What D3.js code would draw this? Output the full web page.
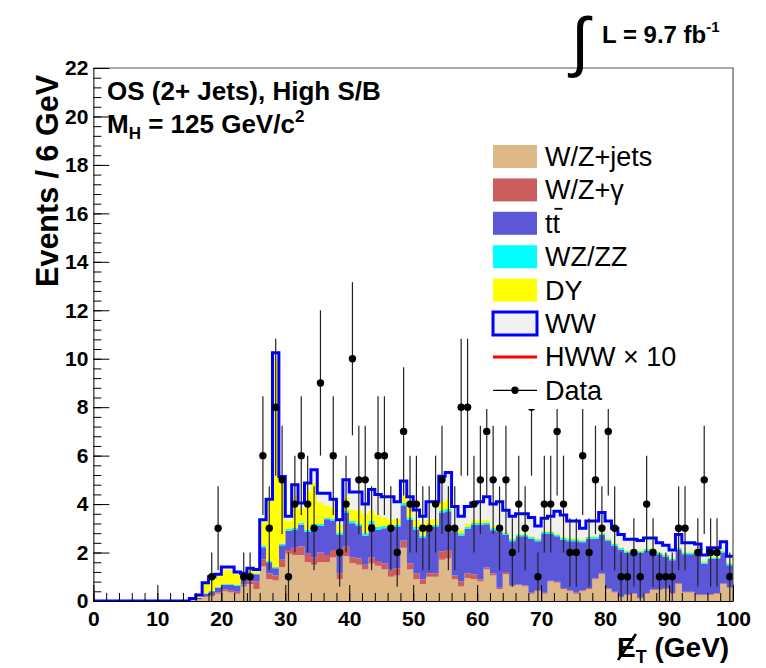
<!DOCTYPE html>
<html>
<head>
<meta charset="utf-8">
<script src="https://cdn.jsdelivr.net/npm/d3@7"></script>
<style>
body { margin: 0; background: #fff; }
text { font-family: "Liberation Sans", Arial, Helvetica, sans-serif; }
</style>
</head>
<body>
<svg id="chart" width="766" height="668"></svg>
<script>
// histogram: 100 bins of 1 GeV from 0 to 100
var xRange = [0, 100];
var yRange = [0, 22];
var xTicks = [0, 10, 20, 30, 40, 50, 60, 70, 80, 90, 100];
var yTicks = [0, 2, 4, 6, 8, 10, 12, 14, 16, 18, 20, 22];

var wzJets = [0,0,0,0,0,0,0,0,0,0, 0,0,0,0,0,0.03,0.06,0.15,0.20,0.30,
  0.40,0.35,0.30,0.60,0.70,0.50,1.42,0.90,0.85,1.40, 1.95,1.90,1.90,1.60,1.50,1.60,1.60,1.80,0.90,1.85,
  1.56,1.50,1.30,1.55,1.45,1.30,1.00,1.05,2.20,1.30, 0.90,0.70,1.00,1.00,1.70,1.75,0.90,0.60,0.95,0.90,
  0.80,1.30,1.05,0.50,1.10,0.60,0.65,0.60,0.30,0.40, 0.30,0.80,0.75,0.50,0.40,0.30,0.40,0.50,0.90,1.10,
  0.50,0.35,0.15,0.25,0.30,0.10,0.30,0.45,0.45,0.50, 0.30,0.70,0.35,0.35,0.25,0.25,0.25,0.30,0.70,0.55];
var wzGamma = [0,0,0,0,0,0,0,0,0,0, 0,0,0,0,0,0.01,0.02,0.05,0.05,0.06,
  0.07,0.07,0.08,0.08,0.10,0.30,0.30,0.25,0.20,0.30, 0.15,0.30,0.35,0.35,0.30,0.40,0.30,0.30,0.25,0.40,
  0.25,0.25,0.20,0.25,0.20,0.25,0.30,0.30,0.30,0.25, 0.25,0.20,0.15,0.15,0.35,0.35,0.15,0.20,0.20,0.20,
  0.10,0.08,0.08,0.05,0.10,0.04,0.04,0.04,0.04,0.04, 0.04,0.04,0.04,0.04,0.04,0.04,0.04,0.04,0.04,0.04,
  0.03,0.03,0.03,0.03,0.03,0.03,0.03,0.03,0.03,0.03, 0.03,0.03,0.03,0.03,0.03,0.03,0.03,0.03,0.03,0.03];
var ttbar = [0,0,0,0,0,0,0,0,0,0, 0,0,0,0,0,0.02,0.05,0.10,0.15,0.20,
  0.20,0.25,0.25,0.25,0.30,0.30,0.50,0.45,0.30,0.60, 0.80,0.75,0.90,0.90,1.30,1.10,1.47,1.22,1.60,1.38,
  1.40,1.35,1.20,1.40,1.30,1.45,1.60,1.70,1.45,1.80, 1.80,1.70,1.80,1.90,1.60,1.60,1.80,1.90,1.82,2.05,
  2.25,1.79,1.79,2.31,1.52,1.83,1.98,2.03,2.23,2.03, 2.45,1.93,1.88,1.98,2.03,2.13,1.98,2.03,1.63,1.58,
  1.95,1.90,1.95,1.70,1.70,1.85,1.75,1.60,1.45,1.30, 1.35,1.40,1.55,1.55,1.65,1.25,1.45,1.40,1.25,0.90];
var wzzz = [0,0,0,0,0,0,0,0,0,0, 0,0,0,0,0,0.01,0.01,0.02,0.02,0.03,
  0.03,0.03,0.03,0.03,0.03,0.03,0.07,0.05,0.05,0.07, 0.07,0.08,0.08,0.08,0.08,0.08,0.08,0.08,0.08,0.10,
  0.10,0.10,0.10,0.10,0.10,0.10,0.10,0.10,0.10,0.10, 0.10,0.10,0.10,0.10,0.10,0.10,0.10,0.10,0.08,0.08,
  0.08,0.08,0.08,0.08,0.08,0.08,0.08,0.08,0.08,0.08, 0.08,0.08,0.08,0.08,0.08,0.08,0.08,0.08,0.08,0.08,
  0.07,0.07,0.07,0.07,0.07,0.07,0.07,0.07,0.07,0.07, 0.07,0.07,0.07,0.07,0.07,0.07,0.07,0.07,0.07,0.07];
var drellYan = [0,0,0,0,0,0,0,0,0,0, 0,0,0,0,0,0.03,0.10,0.40,0.50,0.45,
  0.60,0.60,0.45,0.15,0.15,0.12,1.00,2.50,8.60,2.60, 0.35,1.30,0.60,1.60,1.70,0.90,0.50,0.45,0.35,0.55,
  0.45,0.55,0.80,0.45,0.50,0.35,0.35,0.25,0.35,0.40, 0.30,0.50,0.30,0.25,0.35,0.40,0.20,0.15,0.15,0.12,
  0.12,0.10,0.10,0.06,0.05,0.05,0.05,0.05,0.05,0.05, 0.05,0.05,0.05,0.05,0.05,0.05,0.05,0.05,0.05,0.05,
  0.05,0.05,0.05,0.05,0.05,0.05,0.05,0.05,0.05,0.05, 0.05,0.05,0.05,0.05,0.05,0.05,0.05,0.05,0.05,0.05];
var ww = [0,0,0,0,0,0,0,0,0,0, 0,0,0,0,0,0,0.01,0.03,0.08,0.06,
  0.10,0.10,0.09,0.04,0.07,0.05,0.06,0.05,0.25,0.17, 0.18,0.47,0.22,0.34,0.54,0.37,0.50,0.35,0.17,0.72,
  0.74,0.75,0.40,0.85,0.85,0.85,0.95,0.70,0.55,0.45, 0.41,0.30,0.75,0.70,1.05,1.10,0.75,0.55,0.70,0.70,
  0.75,0.95,0.90,1.10,0.90,0.90,0.80,0.80,0.75,0.50, 0.50,0.60,0.90,0.90,0.70,0.70,0.45,0.60,0.60,0.80,
  0.70,0.60,0.50,0.45,0.40,0.40,0.40,0.40,0.35,0.35, 0.30,0.50,0.35,0.35,0.30,0.25,0.35,0.35,0.35,0.25];
var dataCounts = [0,0,0,0,0,0,0,0,0,0, 0,0,0,0,0,0,0,0,1,3,
  0,0,0,1,1,0,6,3,8,5, 1,4,6,4,3,9,0,6,2,4,
  10,5,5,3,6,6,3,2,7,4, 4,3,3,4,5,3,3,8,8,4,
  5,7,5,3,5,2,4,3,8,1, 4,4,7,4,2,2,6,2,5,3,
  7,3,1,1,2,1,4,2,1,1, 1,3,3,0,2,5,2,2,0,1];

var samples = [
  {key: 'wzJets', label: 'W/Z+jets', values: wzJets, color: '#deb887'},
  {key: 'wzGamma', label: 'W/Z+\u03b3', values: wzGamma, color: '#cd5c5c'},
  {key: 'ttbar', label: 'tt', values: ttbar, color: '#5b57d8'},
  {key: 'wzzz', label: 'WZ/ZZ', values: wzzz, color: '#00ffff'},
  {key: 'dy', label: 'DY', values: drellYan, color: '#ffff00'},
  {key: 'ww', label: 'WW', values: ww, color: '#f0f0f0'}
];

var svg = d3.select('#chart');
var plot = {left: 93.4, right: 733, top: 68, bottom: 601};

var x = d3.scaleLinear().domain(xRange).range([plot.left, plot.right]);
var y = d3.scaleLinear().domain(yRange).range([plot.bottom, plot.top]);

svg.append('defs').append('clipPath').attr('id', 'frameClip')
  .append('rect')
  .attr('x', plot.left).attr('y', plot.top - 2)
  .attr('width', plot.right - plot.left).attr('height', plot.bottom - plot.top + 2);

var bins = dataCounts.map(function(d, i) {
  var row = {i: i};
  samples.forEach(function(s) { row[s.key] = s.values[i]; });
  return row;
});
var stack = d3.stack().keys(samples.map(function(s) { return s.key; }));
var layers = stack(bins);

// duplicate each bin at its low and high edge -> step shape
function stepPoints(layer) {
  var pts = [];
  layer.forEach(function(d, i) {
    pts.push({x: i, y0: d[0], y1: d[1]});
    pts.push({x: i + 1, y0: d[0], y1: d[1]});
  });
  return pts;
}

var area = d3.area()
  .x(function(d) { return x(d.x); })
  .y0(function(d) { return y(d.y0); })
  .y1(function(d) { return y(d.y1); });

var histLayer = svg.append('g').attr('clip-path', 'url(#frameClip)');
histLayer.selectAll('path.stack')
  .data(layers)
  .enter().append('path')
  .attr('class', 'stack')
  .attr('d', function(l) { return area(stepPoints(l)); })
  .attr('fill', function(l, i) { return samples[i].color; });

var outlinePts = stepPoints(layers[layers.length - 1]);
histLayer.append('path')
  .attr('d', d3.line()
    .x(function(d) { return x(d.x); })
    .y(function(d) { return y(d.y1); })(outlinePts))
  .attr('fill', 'none')
  .attr('stroke', '#0000ff')
  .attr('stroke-width', 3)
  .attr('stroke-linejoin', 'miter');

// data with sqrt(N) errors
var points = bins.filter(function(d) { return dataCounts[d.i] > 0; });
var dataLayer = svg.append('g').attr('clip-path', 'url(#frameClip)');
dataLayer.selectAll('line.err')
  .data(points)
  .enter().append('line')
  .attr('class', 'err')
  .attr('x1', function(d) { return x(d.i + 0.5); })
  .attr('x2', function(d) { return x(d.i + 0.5); })
  .attr('y1', function(d) { var n = dataCounts[d.i]; return y(n - Math.sqrt(n)); })
  .attr('y2', function(d) { var n = dataCounts[d.i]; return y(n + Math.sqrt(n)); })
  .attr('stroke', '#222')
  .attr('stroke-width', 1.2);
dataLayer.selectAll('circle')
  .data(points)
  .enter().append('circle')
  .attr('cx', function(d) { return x(d.i + 0.5); })
  .attr('cy', function(d) { return y(dataCounts[d.i]); })
  .attr('r', 3.7)
  .attr('fill', '#000');

// legend (white box hides what lies behind it)
var legend = svg.append('g');
legend.append('rect')
  .attr('x', 486).attr('y', 136).attr('width', 244).attr('height', 273)
  .attr('fill', '#fff');
var legendItems = samples.map(function(s) {
  return {label: s.label, kind: 'box', color: s.color};
});
legendItems.push({label: 'HWW \u00d7 10', kind: 'line', color: '#ff0000'});
legendItems.push({label: 'Data', kind: 'data', color: '#000'});

var row = legend.selectAll('g.item')
  .data(legendItems)
  .enter().append('g')
  .attr('class', 'item')
  .attr('transform', function(d, i) { return 'translate(493,' + (156.5 + i * 33.4) + ')'; });

row.filter(function(d) { return d.kind === 'box'; })
  .append('rect')
  .attr('x', 0).attr('y', -11.5).attr('width', 44).attr('height', 23)
  .attr('fill', function(d) { return d.color; })
  .attr('stroke', function(d) { return d.label === 'WW' ? '#0000ff' : 'none'; })
  .attr('stroke-width', 3);
row.filter(function(d) { return d.kind === 'line'; })
  .append('line')
  .attr('x1', 0).attr('x2', 44).attr('y1', 0).attr('y2', 0)
  .attr('stroke', '#ff0000').attr('stroke-width', 3);
var dataKey = row.filter(function(d) { return d.kind === 'data'; });
dataKey.append('line')
  .attr('x1', 0).attr('x2', 44).attr('y1', 0).attr('y2', 0)
  .attr('stroke', '#000').attr('stroke-width', 1.2);
dataKey.append('circle')
  .attr('cx', 22).attr('cy', 0).attr('r', 3.7).attr('fill', '#000');

row.append('text')
  .attr('x', 52).attr('y', 9.5)
  .attr('font-size', 27)
  .text(function(d) { return d.label; });
// bar over the second t of tt
row.filter(function(d) { return d.label === 'tt'; })
  .append('line')
  .attr('x1', 61.5).attr('x2', 69.5).attr('y1', -14.5).attr('y2', -14.5)
  .attr('stroke', '#000').attr('stroke-width', 1.8);

// frame
svg.append('path')
  .attr('d', 'M' + plot.left + ',' + plot.top + 'H' + plot.right + 'V' + plot.bottom)
  .attr('fill', 'none').attr('stroke', '#555').attr('stroke-width', 1.2);

// axes
var axisFont = function(g) {
  g.selectAll('text')
    .attr('font-family', '"Liberation Sans", Arial, sans-serif')
    .attr('font-weight', 'bold')
    .attr('font-size', 21)
    .attr('fill', '#000');
  g.selectAll('line').attr('stroke', '#000');
  g.select('.domain').attr('stroke', '#000');
};

svg.append('g')
  .attr('transform', 'translate(' + plot.left + ',0)')
  .call(d3.axisLeft(y).tickValues(d3.range(0, 22.01, 0.4)).tickSize(-8).tickFormat(''))
  .call(function(g) { g.select('.domain').remove(); g.selectAll('line').attr('stroke', '#000'); });
svg.append('g')
  .attr('transform', 'translate(' + plot.left + ',0)')
  .call(d3.axisLeft(y).tickValues(yTicks).tickSize(-16).tickPadding(5).tickSizeOuter(0))
  .call(axisFont);

svg.append('g')
  .attr('transform', 'translate(0,' + plot.bottom + ')')
  .call(d3.axisBottom(x).tickValues(d3.range(0, 100.01, 2)).tickSize(-8).tickFormat(''))
  .call(function(g) { g.select('.domain').remove(); g.selectAll('line').attr('stroke', '#000'); });
svg.append('g')
  .attr('transform', 'translate(0,' + plot.bottom + ')')
  .call(d3.axisBottom(x).tickValues(xTicks).tickSize(-16).tickPadding(10).tickSizeOuter(0))
  .call(axisFont);

// axis titles
svg.append('text')
  .attr('transform', 'translate(58,75) rotate(-90)')
  .attr('text-anchor', 'end')
  .attr('font-weight', 'bold')
  .attr('font-size', 30.5)
  .text('Events / 6 GeV');

var xTitle = svg.append('text')
  .attr('x', 617).attr('y', 657)
  .attr('font-weight', 'bold')
  .attr('font-size', 28);
xTitle.append('tspan').text('E');
xTitle.append('tspan').attr('font-size', 18).attr('dy', 6).text('T');
xTitle.append('tspan').attr('dy', -6).text(' (GeV)');
// slash through the E (missing energy)
svg.append('line')
  .attr('x1', 618).attr('y1', 660).attr('x2', 636).attr('y2', 634)
  .attr('stroke', '#000').attr('stroke-width', 2.6);

// annotations
svg.append('text')
  .attr('x', 107).attr('y', 100)
  .attr('font-weight', 'bold').attr('font-size', 26)
  .text('OS (2+ Jets), High S/B');
var mh = svg.append('text')
  .attr('x', 107).attr('y', 133)
  .attr('font-weight', 'bold').attr('font-size', 26);
mh.append('tspan').text('M');
mh.append('tspan').attr('font-size', 17).attr('dy', 6).text('H');
mh.append('tspan').attr('dy', -6).text(' = 125 GeV/c');
mh.append('tspan').attr('font-size', 17).attr('dy', -11).text('2');

svg.append('text')
  .attr('x', 571).attr('y', 64)
  .attr('font-family', '"DejaVu Sans", sans-serif')
  .attr('font-size', 66)
  .text('\u222b');
var lumi = svg.append('text')
  .attr('x', 602).attr('y', 43)
  .attr('font-weight', 'bold').attr('font-size', 24);
lumi.append('tspan').text('L = 9.7 fb');
lumi.append('tspan').attr('font-size', 15).attr('dy', -11).text('-1');
</script>
</body>
</html>
